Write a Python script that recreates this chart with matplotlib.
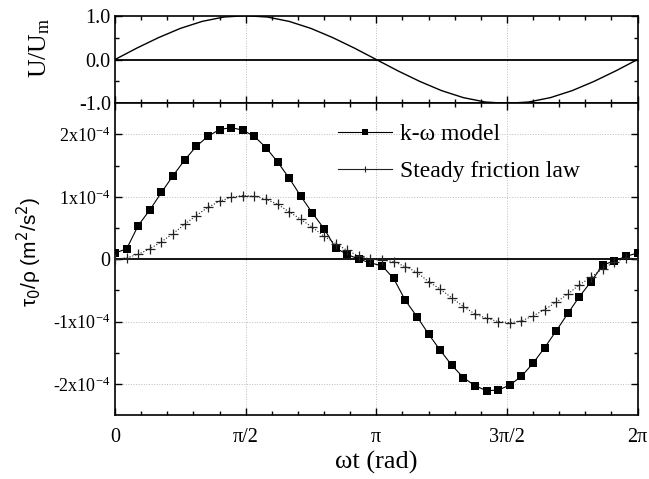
import numpy as np
import matplotlib
matplotlib.use('Agg')
import matplotlib.pyplot as plt
from matplotlib.lines import Line2D

plt.rcParams['font.family'] = 'Liberation Serif'
plt.rcParams['mathtext.fontset'] = 'custom'
plt.rcParams['mathtext.rm'] = 'Liberation Serif'
plt.rcParams['mathtext.it'] = 'Liberation Serif:italic'

# --- data -------------------------------------------------------------
# phase of the cycle, degrees (sampled every 8 deg)
phase_deg = np.arange(0, 361, 8)

# k-omega model wall shear stress, units of 1e-4 m2/s2
kw_model = [0.10, 0.165, 0.54, 0.79, 1.07, 1.34, 1.59, 1.81, 1.97, 2.08,
            2.11, 2.07, 1.97, 1.79, 1.56, 1.30, 1.01, 0.74, 0.49, 0.18,
            0.075, 0.0, -0.06, -0.107, -0.31, -0.66, -0.92, -1.20, -1.46,
            -1.70, -1.90, -2.03, -2.11, -2.10, -2.02, -1.88, -1.67, -1.42,
            -1.15, -0.87, -0.60, -0.36, -0.096, -0.027, 0.043, 0.10]

# steady friction law, units of 1e-4 m2/s2
steady = [0.0, 0.02, 0.08, 0.165, 0.28, 0.41, 0.56, 0.70, 0.83, 0.93,
          0.99, 1.02, 1.01, 0.96, 0.88, 0.76, 0.64, 0.51, 0.37, 0.25,
          0.14, 0.05, 0.0, -0.01, -0.04, -0.12, -0.21, -0.36, -0.48,
          -0.62, -0.76, -0.88, -0.95, -1.00, -1.02, -0.99, -0.91, -0.81,
          -0.69, -0.56, -0.41, -0.29, -0.15, -0.05, 0.02, 0.0]

# free stream velocity U/Um, read every 15 deg
u_deg = np.arange(0, 361, 15)
u_ratio = [0.0, 0.26, 0.50, 0.71, 0.87, 0.97, 1.0, 0.97, 0.87, 0.71, 0.50,
           0.26, 0.0, -0.26, -0.50, -0.71, -0.87, -0.97, -1.0, -0.97, -0.87,
           -0.71, -0.50, -0.26, 0.0]

x_ticks = [0, np.pi / 2, np.pi, 3 * np.pi / 2, 2 * np.pi]
x_labels = ['0', 'π/2', 'π', '3π/2', '2π']
u_ticks = [-1.0, 0.0, 1.0]
u_labels = ['-1.0', '0.0', '1.0']
tau_ticks = [-2e-4, -1e-4, 0, 1e-4, 2e-4]
tau_labels = ['-2x10$^{-4}$', '-1x10$^{-4}$', '0', '1x10$^{-4}$', '2x10$^{-4}$']

x = np.deg2rad(phase_deg)
xu = np.deg2rad(u_deg)
kw = np.array(kw_model) * 1e-4
st = np.array(steady) * 1e-4

fig = plt.figure(figsize=(6.49, 4.79), dpi=100)
ax1 = fig.add_axes([0.1772, 0.7843, 0.8051, 0.1829])
ax2 = fig.add_axes([0.1772, 0.1336, 0.8051, 0.6507])

tick_fs = 14.5


def style_axis(ax):
    for s in ax.spines.values():
        s.set_linewidth(1.2)
    ax.set_xlim(0, 2 * np.pi)
    ax.set_xticks(x_ticks)
    ax.set_xticks(np.arange(0, 2 * np.pi + 0.01, np.pi / 10), minor=True)
    ax.tick_params(which='both', direction='in', top=True, right=True,
                   width=1.0, labelsize=tick_fs)
    ax.tick_params(which='major', length=5)
    ax.tick_params(which='minor', length=3)
    for xv in x_ticks[1:-1]:
        ax.axvline(xv, color='#bbbbbb', lw=0.7, ls=':', zorder=0)


# top panel: velocity
style_axis(ax1)
ax1.plot(xu, u_ratio, color='black', lw=1.0)
ax1.axhline(0, color='black', lw=1.3)
ax1.set_ylim(-1.0, 1.0)
ax1.set_yticks(u_ticks)
ax1.set_yticklabels(u_labels)
ax1.set_yticks([-0.5, 0.5], minor=True)
ax1.tick_params(axis='y', pad=3)
ax1.set_xticklabels([])
ax1.set_ylabel('U/U$_{\\rm m}$', fontsize=18.5)
ax1.yaxis.set_label_coords(-0.12, 0.63)

# bottom panel: wall shear stress
style_axis(ax2)
for yv in [-2e-4, -1e-4, 1e-4, 2e-4]:
    ax2.axhline(yv, color='#bbbbbb', lw=0.7, ls=':', zorder=0)
ax2.axhline(0, color='black', lw=1.3)
ax2.plot(x, kw, color='black', lw=0.8, marker='s', ms=5.3, mew=0,
         label='k-ω model', zorder=3)
ax2.plot(x, st, color='#222222', lw=0.8, ls=':', marker='+', ms=7, mew=0.9,
         label='Steady friction law', zorder=3)
ax2.set_ylim(-2.5e-4, 2.5e-4)
ax2.set_yticks(tau_ticks)
ax2.set_yticklabels(tau_labels)
for lab in ax2.get_yticklabels():
    if lab.get_text() != '0':
        lab.set_fontsize(13)
ax2.set_yticks([-1.5e-4, -0.5e-4, 0.5e-4, 1.5e-4], minor=True)
ax2.set_xticklabels(x_labels)
ax2.tick_params(axis='x', pad=9)
ax2.set_xlabel('ωt (rad)', fontsize=19, labelpad=3)
ax2.set_ylabel('τ$_0$/ρ (m$^2$/s$^2$)', family='Liberation Sans',
               math_fontfamily='dejavusans', fontsize=15)
ax2.yaxis.set_label_coords(-0.135, 0.522)

handles = [Line2D([], [], color='black', lw=0.8, marker='s', ms=4.5, mew=0),
           Line2D([], [], color='#222222', lw=0.8, marker='+', ms=5, mew=0.8)]
ax2.legend(handles, ['k-ω model', 'Steady friction law'], frameon=False,
           fontsize=17, loc='upper left', bbox_to_anchor=(0.388, 1.0),
           handlelength=2.3, handletextpad=0.35, labelspacing=0.66,
           borderaxespad=0.45)

fig.savefig('out.png', dpi=100)
